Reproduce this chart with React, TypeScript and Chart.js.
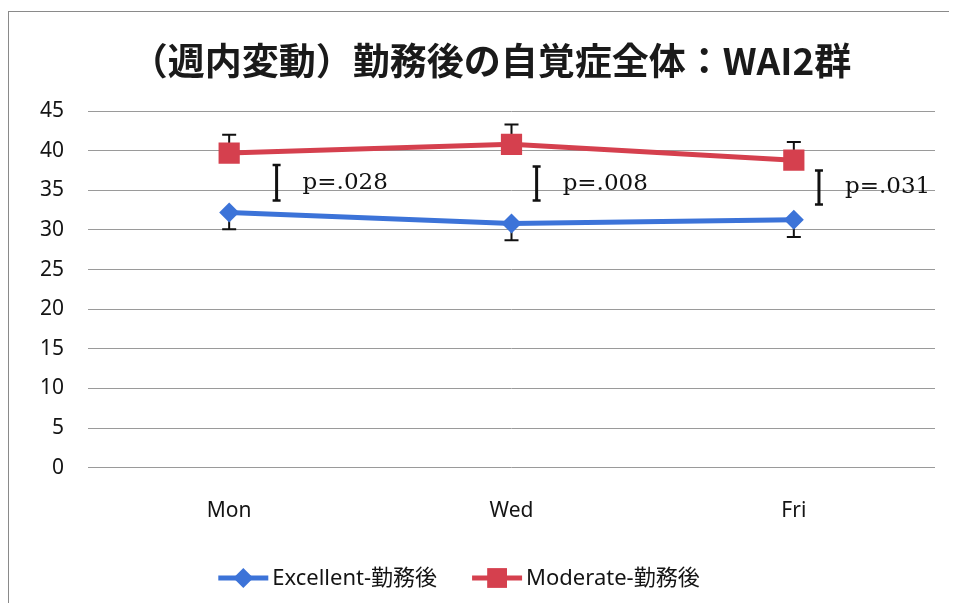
import React, { useEffect, useRef } from 'react';
import { Chart, registerables } from 'chart.js';

Chart.register(...registerables);

const titleText = '（週内変動）勤務後の自覚症全体：WAI2群';
const categories = ['Mon', 'Wed', 'Fri'];
const excellentLabel = 'Excellent-勤務後';
const moderateLabel = 'Moderate-勤務後';
const excellentValues = [32.2, 30.8, 31.3];
const excellentErrors = [2.1, 2.1, 2.2];
const moderateValues = [39.7, 40.8, 38.8];
const moderateErrors = [2.3, 2.5, 2.3];
const sigLow = [33.7, 33.7, 33.2];
const sigHigh = [38.2, 38.0, 37.5];
const pLabels = ['p=.028', 'p=.008', 'p=.031'];
const yMin = 0;
const yMax = 45;
const yStep = 5;

// layout constants (not data)
const sigOffsets = [0.168, 0.089, 0.089];
const BLUE = '#3c73d8';
const RED = '#d5404e';
const TEXT = '#141414';
const SANS = '"Noto Sans", "Noto Sans CJK JP", sans-serif';

const overlayPlugin = {
  id: 'overlay',
  beforeDatasetsDraw(chart: any) {
    const ctx = chart.ctx;
    const xs = chart.scales.x;
    const ys = chart.scales.y;
    ctx.save();
    ctx.strokeStyle = '#111111';
    ctx.lineWidth = 2;
    const cap = 7;
    categories.forEach((_, i) => {
      const x = xs.getPixelForValue(i);
      const y0 = ys.getPixelForValue(moderateValues[i]);
      const y1 = ys.getPixelForValue(moderateValues[i] + moderateErrors[i]);
      ctx.beginPath();
      ctx.moveTo(x, y0);
      ctx.lineTo(x, y1);
      ctx.moveTo(x - cap, y1);
      ctx.lineTo(x + cap, y1);
      ctx.stroke();
      const e0 = ys.getPixelForValue(excellentValues[i]);
      const e1 = ys.getPixelForValue(excellentValues[i] - excellentErrors[i]);
      ctx.beginPath();
      ctx.moveTo(x, e0);
      ctx.lineTo(x, e1);
      ctx.moveTo(x - cap, e1);
      ctx.lineTo(x + cap, e1);
      ctx.stroke();
    });
    ctx.restore();
  },
  afterDatasetsDraw(chart: any) {
    const ctx = chart.ctx;
    const xs = chart.scales.x;
    const ys = chart.scales.y;
    ctx.save();
    categories.forEach((_, i) => {
      const x = xs.getPixelForValue(i + sigOffsets[i]);
      const yTop = ys.getPixelForValue(sigHigh[i]);
      const yBot = ys.getPixelForValue(sigLow[i]);
      ctx.strokeStyle = '#111111';
      ctx.lineWidth = 3;
      ctx.beginPath();
      ctx.moveTo(x, yTop);
      ctx.lineTo(x, yBot);
      ctx.stroke();
      ctx.lineWidth = 2.5;
      ctx.beginPath();
      ctx.moveTo(x - 4, yTop);
      ctx.lineTo(x + 4, yTop);
      ctx.moveTo(x - 4, yBot);
      ctx.lineTo(x + 4, yBot);
      ctx.stroke();
      ctx.fillStyle = '#111111';
      ctx.font = '23px "DejaVu Serif", "Liberation Serif", serif';
      ctx.textAlign = 'left';
      ctx.textBaseline = 'middle';
      ctx.fillText(pLabels[i], x + 26, (yTop + yBot) / 2);
    });
    ctx.restore();
  },
  afterDraw(chart: any) {
    const ctx = chart.ctx;
    ctx.save();
    // title
    ctx.fillStyle = '#1a1a1a';
    ctx.font = 'bold 37px "Noto Sans CJK JP", sans-serif';
    ctx.textAlign = 'center';
    ctx.textBaseline = 'middle';
    ctx.fillText(titleText, 482, 49);
    // legend
    ctx.font = '22px ' + SANS;
    const lineLen = 50;
    const gapText = 4;
    const gapItems = 35;
    const w1 = ctx.measureText(excellentLabel).width;
    const w2 = ctx.measureText(moderateLabel).width;
    const total = lineLen + gapText + w1 + gapItems + lineLen + gapText + w2;
    let x = 450 - total / 2;
    const y = 566;
    const items = [
      { label: excellentLabel, color: BLUE, style: 'rectRot', r: 10, w: w1 },
      { label: moderateLabel, color: RED, style: 'rect', r: 14, w: w2 },
    ];
    items.forEach((it) => {
      ctx.strokeStyle = it.color;
      ctx.lineWidth = 5;
      ctx.beginPath();
      ctx.moveTo(x, y);
      ctx.lineTo(x + lineLen, y);
      ctx.stroke();
      ctx.fillStyle = it.color;
      const cx = x + lineLen / 2;
      ctx.beginPath();
      if (it.style === 'rectRot') {
        ctx.moveTo(cx, y - it.r);
        ctx.lineTo(cx + it.r, y);
        ctx.lineTo(cx, y + it.r);
        ctx.lineTo(cx - it.r, y);
        ctx.closePath();
      } else {
        const s = it.r * Math.SQRT1_2;
        ctx.rect(cx - s, y - s, 2 * s, 2 * s);
      }
      ctx.fill();
      ctx.fillStyle = TEXT;
      ctx.textAlign = 'left';
      ctx.textBaseline = 'middle';
      ctx.fillText(it.label, x + lineLen + gapText, y + 1);
      x += lineLen + gapText + it.w + gapItems;
    });
    ctx.restore();
  },
};

export default function App() {
  const ref = useRef<HTMLCanvasElement | null>(null);
  useEffect(() => {
    if (!ref.current) return;
    const chart = new Chart(ref.current, {
      type: 'line',
      data: {
        labels: categories,
        datasets: [
          {
            label: excellentLabel,
            data: excellentValues,
            borderColor: BLUE,
            backgroundColor: BLUE,
            borderWidth: 5,
            pointStyle: 'rectRot',
            pointRadius: 10,
            pointBorderWidth: 0,
            tension: 0,
          },
          {
            label: moderateLabel,
            data: moderateValues,
            borderColor: RED,
            backgroundColor: RED,
            borderWidth: 5,
            pointStyle: 'rect',
            pointRadius: 15,
            pointBorderWidth: 0,
            tension: 0,
          },
        ],
      },
      options: {
        animation: false,
        responsive: false,
        events: [],
        layout: { padding: { top: 99, left: 0, right: 22, bottom: 51 } },
        plugins: {
          legend: { display: false },
          tooltip: { enabled: false },
          title: { display: false },
        },
        scales: {
          x: {
            offset: true,
            grid: { display: false, drawTicks: false },
            border: { display: false },
            ticks: { color: TEXT, font: { family: SANS, size: 21 }, padding: 31 },
          },
          y: {
            min: yMin,
            max: yMax,
            afterFit: (s: any) => { s.width = 79; },
            grid: { color: '#9a9a9a', lineWidth: 1, drawTicks: false },
            border: { display: false },
            ticks: { stepSize: yStep, autoSkip: false, color: TEXT, font: { family: SANS, size: 21 }, padding: 24 },
          },
        },
      },
      plugins: [overlayPlugin],
    });
    return () => chart.destroy();
  }, []);
  return (
    <div
      style={{
        position: 'relative',
        top: 3,
        width: 948,
        height: 594,
        borderLeft: '1px solid #8a8a8a',
        borderTop: '1px solid #8a8a8a',
        background: '#ffffff',
      }}
    >
      <canvas ref={ref} width={948} height={594} style={{ display: 'block', width: 948, height: 594 }} />
    </div>
  );
}
